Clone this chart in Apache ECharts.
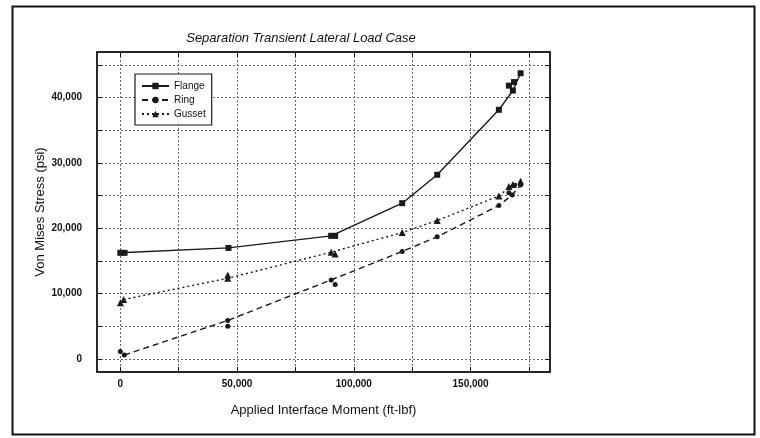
<!DOCTYPE html>
<html><head><meta charset="utf-8">
<script src="https://cdn.jsdelivr.net/npm/echarts@6/dist/echarts.min.js"></script>
<style>html,body{margin:0;padding:0;background:#fff}#c{width:760px;height:438px}</style>
</head><body><div id="c"></div>
<script>
const titleText = 'Separation Transient Lateral Load Case';
const xAxisName = 'Applied Interface Moment (ft-lbf)';
const yAxisName = 'Von Mises Stress (psi)';
const seriesNames = ['Flange', 'Ring', 'Gusset'];
const xTickValues = [0, 25000, 50000, 75000, 100000, 125000, 150000, 175000];
const xLabelValues = [0, 50000, 100000, 150000];
const yTickValues = [0, 5000, 10000, 15000, 20000, 25000, 30000, 35000, 40000, 45000];
const yLabelValues = [0, 10000, 20000, 30000, 40000];

// main connected points
const flangeLine = [[0,16250],[46300,17000],[90300,18850],[120700,23850],[135700,28200],[162100,38150],[168100,41100],[171400,43750]];
const ringLine   = [[1700,600],[46000,5900],[90300,12100],[120700,16450],[135700,18700],[162100,23500],[167800,25100],[171400,26650]];
const gussetLine = [[1400,9100],[46000,12350],[90300,16350],[120700,19350],[135700,21200],[162100,24950],[168100,26700],[171400,27200]];
// additional unconnected points
const flangeExtra = [[1800,16250],[92000,18850],[166400,41850],[168600,42400]];
const ringExtra   = [[0,1150],[46000,5000],[92000,11400],[166400,25450],[168800,26550]];
const gussetExtra = [[0,8600],[46000,12850],[92000,16050],[166400,26400]];

function fmt(v){ return String(v).replace(/\B(?=(\d{3})+(?!\d))/g, ','); }

const ink = '#1a1a1a';
const styles = {
  Flange: {symbol:'rect', size:6, type:'solid'},
  Ring:   {symbol:'circle', size:5, type:[6,4]},
  Gusset: {symbol:'triangle', size:7, type:[2,3]}
};
const lines = {Flange: flangeLine, Ring: ringLine, Gusset: gussetLine};
const extras = {Flange: flangeExtra, Ring: ringExtra, Gusset: gussetExtra};

const series = [];
seriesNames.forEach(n => {
  const s = styles[n];
  series.push({
    name: n, type: 'line', data: lines[n], symbol: s.symbol, symbolSize: s.size,
    showAllSymbol: true,
    lineStyle: {color: ink, width: 1.4, type: s.type},
    itemStyle: {color: ink, opacity: 1}, z: 3
  });
  series.push({
    name: n, type: 'scatter', data: extras[n], symbol: s.symbol, symbolSize: s.size,
    itemStyle: {color: ink, opacity: 1}, z: 3
  });
});

const tickStyle = {show: true, inside: true, length: 5, lineStyle: {color: ink, width: 1}};
const labelFont = {fontFamily: 'Liberation Sans, Arial, sans-serif', fontSize: 10, fontWeight: 'bold', color: '#111'};
const nameFont = {fontFamily: 'Liberation Sans, Arial, sans-serif', fontSize: 13, color: '#111'};

const option = {
  animation: false,
  backgroundColor: '#fff',
  title: {
    text: titleText, left: 296, top: 27, textAlign: 'center',
    textStyle: {fontFamily: 'Liberation Sans, Arial, sans-serif', fontSize: 13, fontStyle: 'italic', fontWeight: 'normal', color: '#111'}
  },
  legend: {
    data: seriesNames, orient: 'vertical', left: 135, top: 74,
    itemWidth: 27, itemHeight: 8, itemGap: 2,
    padding: [6, 6, 5, 6], borderColor: ink, borderWidth: 1.2, backgroundColor: '#fff',
    textStyle: {fontFamily: 'Liberation Sans, Arial, sans-serif', fontSize: 10, color: '#111', lineHeight: 12}
  },
  grid: {left: 97, top: 52, width: 453, height: 320, show: true, borderColor: ink, borderWidth: 1.5, backgroundColor: 'transparent'},
  xAxis: [{
    type: 'value', min: -10000, max: 184000, position: 'bottom',
    name: xAxisName, nameLocation: 'middle', nameGap: 32, nameTextStyle: nameFont,
    axisLine: {show: true, onZero: false, lineStyle: {color: ink, width: 1.5}},
    axisTick: Object.assign({customValues: xTickValues}, tickStyle),
    axisLabel: Object.assign({customValues: xLabelValues, margin: 7, formatter: fmt}, labelFont),
    splitLine: {show: true, lineStyle: {color: '#666', width: 1, type: [2, 2]}}
  }, {
    type: 'value', min: -10000, max: 184000, position: 'top',
    axisLine: {show: true, onZero: false, lineStyle: {color: ink, width: 1.5}},
    axisTick: Object.assign({customValues: xTickValues}, tickStyle),
    axisLabel: {show: false}, splitLine: {show: false}
  }],
  yAxis: [{
    type: 'value', min: -2000, max: 47000, position: 'left',
    name: yAxisName, nameLocation: 'middle', nameGap: 50, nameRotate: 90, nameTextStyle: nameFont,
    nameMoveOverlap: false,
    axisLine: {show: true, onZero: false, lineStyle: {color: ink, width: 1.5}},
    axisTick: Object.assign({customValues: yTickValues}, tickStyle),
    axisLabel: Object.assign({customValues: yLabelValues, margin: 15, formatter: fmt}, labelFont),
    splitLine: {show: true, lineStyle: {color: '#666', width: 1, type: [2, 2]}}
  }, {
    type: 'value', min: -2000, max: 47000, position: 'right',
    axisLine: {show: true, onZero: false, lineStyle: {color: ink, width: 1.5}},
    axisTick: Object.assign({customValues: yTickValues}, tickStyle),
    axisLabel: {show: false}, splitLine: {show: false}
  }],
  graphic: [{
    type: 'rect', left: 10, top: 4, shape: {x: 0, y: 0, width: 742, height: 428},
    style: {fill: 'none', stroke: '#111', lineWidth: 2}, silent: true
  }],
  series: series
};
const chart = echarts.init(document.getElementById('c'), null, {renderer: 'canvas'});
chart.setOption(option);
</script>
</body></html>
